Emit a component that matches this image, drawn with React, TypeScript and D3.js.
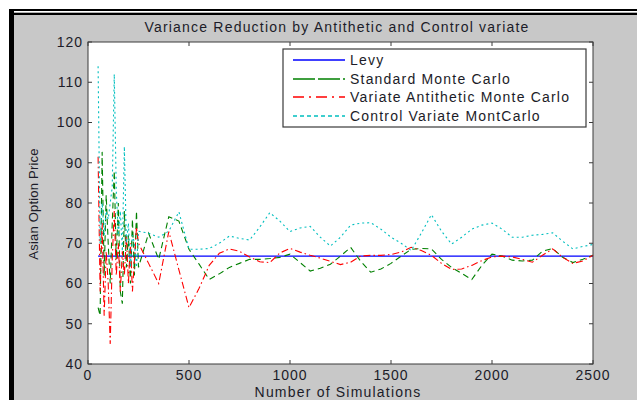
import * as d3 from "d3";

const sims = [
  50, 60, 70, 80, 90, 100, 110, 120, 130, 140, 150, 160, 170, 180, 190, 200, 210, 220, 230, 240, 250,
  300, 350, 400, 450, 500, 550, 600, 650, 700, 750, 800, 850, 900, 950, 1000, 1050, 1100, 1150, 1200,
  1250, 1300, 1350, 1400, 1450, 1500, 1550, 1600, 1650, 1700, 1750, 1800, 1850, 1900, 1950, 2000,
  2050, 2100, 2150, 2200, 2250, 2300, 2350, 2400, 2450, 2500,
];

const levyPrice = 66.8;

const standardMC = [
  54, 52, 92.7, 62, 82, 70, 60, 75, 88, 66, 80, 58, 55, 78, 64, 72, 60, 76, 62, 78, 64,
  72.5, 66, 76.6, 75.5, 68.5, 64.8, 61, 62.4, 64, 65, 66, 66, 66.2, 66.5, 67.3, 65.2, 63.1, 63.8, 64.8,
  66.8, 69, 65.5, 62.8, 63.6, 65, 66.8, 68.5, 68.7, 68.6, 66, 64, 62.5, 61, 64.5, 67.3,
  66.8, 65.8, 65.6, 65.8, 68, 68.7, 66.5, 65.2, 66, 67,
];

const antitheticMC = [
  91.5, 58, 75, 52, 68, 60, 45, 66, 78, 62, 70, 58, 68, 62, 72, 60, 70, 58, 66, 74, 70,
  65, 60, 72.9, 63.4, 54, 58.8, 64.5, 67.5, 68.6, 68, 66.6, 65.4, 65.2, 67.6, 68.7, 67.8, 67, 66.3, 65.5,
  64.7, 65.3, 66.8, 67, 67, 67.2, 67.8, 69, 68.2, 67, 65, 63.5, 63.6, 64.5, 65.7, 66.6,
  66.8, 66.6, 66, 65.3, 67, 68.6, 66.5, 65, 65.6, 67,
];

const controlMC = [
  114, 70, 80, 72, 78, 76, 80, 84, 112, 83, 72, 78, 68, 94, 70, 75, 64, 72, 70, 64, 73,
  72.5, 71.5, 73, 77.8, 68.5, 68.5, 68.7, 70, 71.8, 71.2, 70.8, 74, 77.6, 75.5, 72.9, 73.8, 74.2, 71.5, 69.3,
  71.5, 74.5, 75, 75.1, 73.5, 71.5, 70, 68.2, 72.5, 77.1, 73, 69.8, 71.5, 73.5, 74.5, 75,
  73.5, 71.5, 71.5, 72, 72.2, 72.6, 70.5, 68.6, 69.2, 69.7,
];

const xTicks = [0, 500, 1000, 1500, 2000, 2500];
const yTicks = [40, 50, 60, 70, 80, 90, 100, 110, 120];

const series = [
  { name: "Levy", color: "#0000ff", dash: "", legDash: "" },
  { name: "Standard Monte Carlo", color: "#008000", dash: "6,4", legDash: "22,3" },
  { name: "Variate Antithetic Monte Carlo", color: "#ff0000", dash: "7,3,1.5,3", legDash: "11,5,2,5" },
  { name: "Control Variate MontCarlo", color: "#00bfbf", dash: "2,3", legDash: "4,3" },
];

const W = 637;
const H = 400;
const left = 88;
const right = 593;
const top = 42;
const bottom = 364;
const FONT = "'Liberation Sans', Arial, sans-serif";
const TEXT = "#1c1c28";
const AXIS = "#3a3a3a";

export default function App() {
  const x = d3.scaleLinear().domain([0, 2500]).range([left, right]);
  const y = d3.scaleLinear().domain([40, 120]).range([bottom, top]);

  const line = d3
    .line<[number, number]>()
    .x((d) => x(d[0]))
    .y((d) => y(d[1]));

  const pair = (vals: number[]) => sims.map((s, i) => [s, vals[i]] as [number, number]);
  const paths = [
    line([[sims[0], levyPrice], [sims[sims.length - 1], levyPrice]]),
    line(pair(standardMC)),
    line(pair(antitheticMC)),
    line(pair(controlMC)),
  ];

  const legX = 283;
  const legY = 49;
  const legW = 303;
  const legH = 78;
  const rowY = [60, 79, 97, 116];

  return (
    <div style={{ position: "fixed", left: 0, top: 0, width: W, height: H }}>
      <svg width={W} height={H} style={{ display: "block" }}>
        <rect x={0} y={0} width={W} height={H} fill="#ffffff" />
        <rect x={9} y={9} width={W - 9} height={H - 9} fill="#000000" />
        <rect x={14} y={11} width={W - 14} height={H - 11} fill="#ffffff" />
        <rect x={12} y={12.7} width={W - 12} height={2.3} fill="#000000" />
        <rect x={14} y={15} width={W - 14} height={H - 15} fill="#c8c8c8" />

        <rect x={left} y={top} width={right - left} height={bottom - top} fill="#ffffff" />

        <text x={337} y={32} textAnchor="middle" fontFamily={FONT} fontSize={14} letterSpacing={1.2} fill={TEXT}>
          Variance Reduction by Antithetic and Control variate
        </text>

        <g>
          {paths.map((p, i) => (
            <path
              key={i}
              d={p ?? ""}
              fill="none"
              stroke={series[i].color}
              strokeWidth={i === 0 ? 1.3 : 1.1}
              strokeDasharray={series[i].dash || undefined}
            />
          ))}
        </g>

        <rect x={left} y={top} width={right - left} height={bottom - top} fill="none" stroke={AXIS} strokeWidth={1} />

        {xTicks.map((t) => (
          <g key={"x" + t}>
            <line x1={x(t)} x2={x(t)} y1={bottom} y2={bottom - 4} stroke={AXIS} />
            <line x1={x(t)} x2={x(t)} y1={top} y2={top + 4} stroke={AXIS} />
            <text x={x(t)} y={380} textAnchor="middle" fontFamily={FONT} fontSize={14} letterSpacing={1} fill={TEXT}>
              {t}
            </text>
          </g>
        ))}
        {yTicks.map((t) => (
          <g key={"y" + t}>
            <line x1={left} x2={left + 4} y1={y(t)} y2={y(t)} stroke={AXIS} />
            <line x1={right} x2={right - 4} y1={y(t)} y2={y(t)} stroke={AXIS} />
            <text x={83} y={y(t)} dy="0.35em" textAnchor="end" fontFamily={FONT} fontSize={14} letterSpacing={1} fill={TEXT}>
              {t}
            </text>
          </g>
        ))}

        <text x={338} y={397} textAnchor="middle" fontFamily={FONT} fontSize={14} letterSpacing={1.2} fill={TEXT}>
          Number of Simulations
        </text>
        <text
          transform={`translate(38,${(top + bottom) / 2 + 1}) rotate(-90)`}
          textAnchor="middle"
          fontFamily={FONT}
          fontSize={13}
          letterSpacing={0.2}
          fill={TEXT}
        >
          Asian Option Price
        </text>

        <rect x={legX} y={legY} width={legW} height={legH} fill="#ffffff" stroke={AXIS} strokeWidth={1.2} />
        {series.map((s, i) => (
          <g key={s.name}>
            <line
              x1={293}
              x2={345}
              y1={rowY[i]}
              y2={rowY[i]}
              stroke={s.color}
              strokeWidth={1.5}
              strokeDasharray={s.legDash || undefined}
            />
            <text x={350} y={rowY[i]} dy="0.35em" fontFamily={FONT} fontSize={14} letterSpacing={1.2} fill={TEXT}>
              {s.name}
            </text>
          </g>
        ))}
      </svg>
    </div>
  );
}
